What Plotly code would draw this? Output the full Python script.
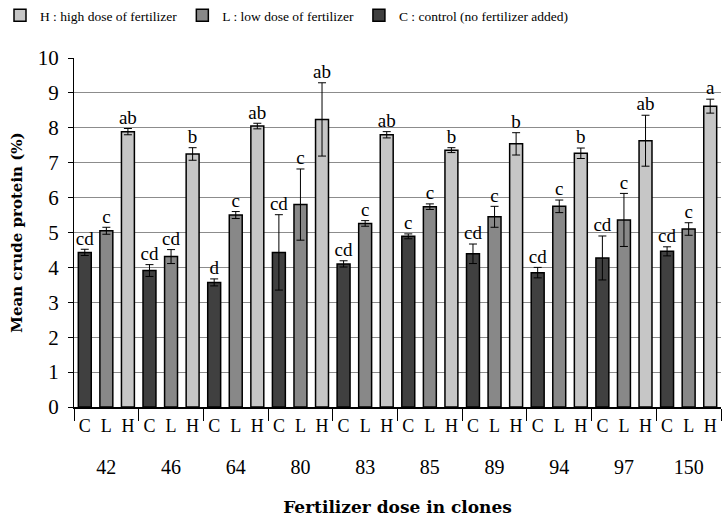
import plotly.graph_objects as go

clones = ["42", "46", "64", "80", "83", "85", "89", "94", "97", "150"]
treatments = ["C", "L", "H"]
series_names = {
    "C": "C : control (no fertilizer added)",
    "L": "L : low dose of fertilizer",
    "H": "H : high dose of fertilizer",
}
c_mean = [4.43, 3.91, 3.57, 4.43, 4.10, 4.89, 4.39, 3.85, 4.27, 4.46]
c_err = [0.09, 0.17, 0.10, 1.08, 0.09, 0.07, 0.28, 0.15, 0.63, 0.13]
l_mean = [5.05, 4.31, 5.50, 5.80, 5.26, 5.74, 5.45, 5.75, 5.36, 5.10]
l_err = [0.10, 0.20, 0.10, 1.02, 0.08, 0.08, 0.30, 0.18, 0.76, 0.18]
h_mean = [7.89, 7.25, 8.05, 8.24, 7.80, 7.36, 7.54, 7.27, 7.63, 8.62]
h_err = [0.09, 0.18, 0.08, 1.05, 0.09, 0.07, 0.32, 0.15, 0.73, 0.20]
c_sig = ["cd", "cd", "d", "cd", "cd", "c", "cd", "cd", "cd", "cd"]
l_sig = ["c", "cd", "c", "c", "c", "c", "c", "c", "c", "c"]
h_sig = ["ab", "b", "ab", "ab", "ab", "b", "b", "b", "ab", "a"]

colors = {"C": "#404040", "L": "#888888", "H": "#c6c6c6"}
means = {"C": c_mean, "L": l_mean, "H": h_mean}
errs = {"C": c_err, "L": l_err, "H": h_err}
sigs = {"C": c_sig, "L": l_sig, "H": h_sig}

SERIF = "Liberation Serif"

cat_order = [f"{c} {t}" for c in clones for t in treatments]
cat_text = [t for c in clones for t in treatments]

fig = go.Figure()
# bars grouped on the clone axis
for t in treatments:
    fig.add_trace(go.Bar(
        x=clones, y=means[t], name=series_names[t],
        marker=dict(color=colors[t], line=dict(color="black", width=1.5)),
        error_y=dict(type="data", array=errs[t], color="black",
                     thickness=1, width=4),
        xaxis="x", yaxis="y",
    ))
# significance letters on the treatment-level axis
for t in treatments:
    xs = [f"{c} {t}" for c in clones]
    tops = [m + e for m, e in zip(means[t], errs[t])]
    fig.add_trace(go.Scatter(
        x=xs, y=tops, mode="text", text=sigs[t],
        textposition="top center", showlegend=False, cliponaxis=False,
        textfont=dict(family=SERIF, size=19, color="black"),
        hoverinfo="skip", xaxis="x2", yaxis="y",
    ))

fig.update_layout(
    width=726, height=517,
    margin=dict(l=74, r=5, t=58, b=110),
    paper_bgcolor="white", plot_bgcolor="white",
    barmode="group", bargap=0, bargroupgap=0.4,
    font=dict(family=SERIF, size=18, color="black"),
    showlegend=True,
    legend=dict(
        orientation="h", traceorder="reversed",
        xref="container", yref="container",
        x=-0.01, xanchor="left", y=1.0, yanchor="top",
        font=dict(family=SERIF, size=13.5),
        bgcolor="rgba(0,0,0,0)",
    ),
    xaxis=dict(
        type="category", categoryorder="array", categoryarray=clones,
        range=[-0.5, len(clones) - 0.5], automargin=False,
        tickson="boundaries", ticks="outside", ticklen=12,
        tickcolor="black", tickwidth=1,
        showline=True, linecolor="black", linewidth=1.5,
        showgrid=False, zeroline=False,
        tickfont=dict(family=SERIF, size=20),
        ticklabelstandoff=41,
    ),
    xaxis2=dict(
        overlaying="x", anchor="y", side="bottom",
        type="category", categoryorder="array", categoryarray=cat_order,
        range=[-0.5, len(cat_order) - 0.5], automargin=False,
        tickmode="array", tickvals=cat_order, ticktext=cat_text,
        ticks="", showline=False, showgrid=False, zeroline=False,
        tickfont=dict(family=SERIF, size=18),
        ticklabelstandoff=6,
        title=dict(text="<b>Fertilizer dose in clones</b>",
                   font=dict(family="DejaVu Serif", size=17),
                   standoff=67),
    ),
    yaxis=dict(
        range=[0, 10], dtick=1, ticks="outside", ticklen=5,
        tickcolor="black", showline=True, linecolor="black", linewidth=1,
        showgrid=True, gridcolor="#8c8c8c", gridwidth=1, zeroline=False,
        tickfont=dict(family=SERIF, size=21), automargin=False,
        ticklabelstandoff=5,
        title=dict(text="<b>Mean crude protein (%)</b>",
                   font=dict(family="DejaVu Serif", size=15),
                   standoff=11),
    ),
)

fig.write_html("out.html", config={"displayModeBar": False},
               post_script="document.body.style.margin='0px';")
